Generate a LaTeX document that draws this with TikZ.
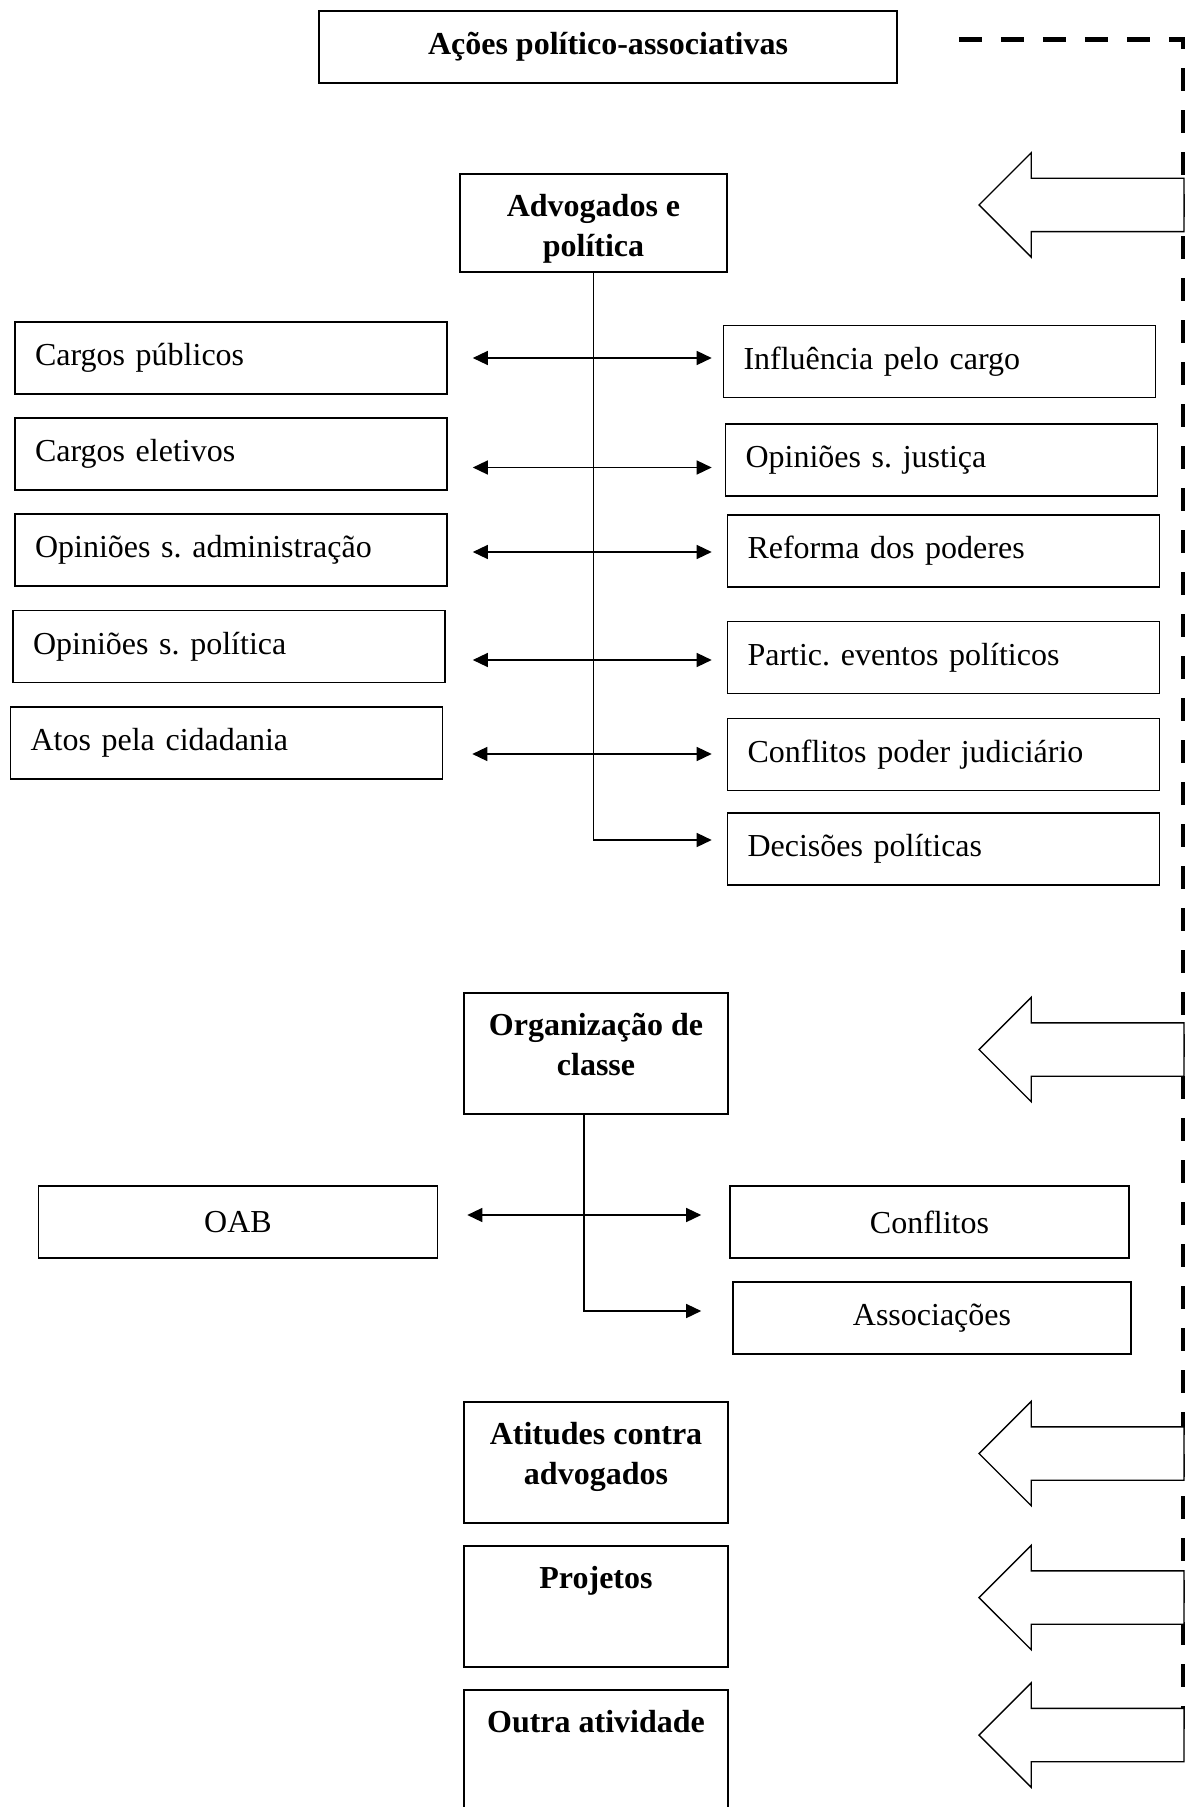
\documentclass[tikz,border=0pt]{standalone}
\usepackage{fontspec}
\setmainfont{Liberation Serif}
\usepackage{tikz}
\usetikzlibrary{arrows.meta}
\usetikzlibrary{shapes.arrows}
\frenchspacing

\begin{document}
\begin{tikzpicture}[x=0.5pt,y=-0.5pt,>={Triangle[length=7.5pt,width=7pt]},
    font=\fontsize{16}{20}\selectfont,
    box/.style={draw,line width=0.8pt,minimum height=36pt,inner sep=0pt},
    sidebox/.style={box,text width=196pt,inner xsep=10pt,align=left},
    midbox/.style={box,minimum width=199.5pt},
    catbox/.style={draw,line width=0.8pt,minimum width=132pt,minimum height=60.5pt},
    cattext/.style={font=\fontsize{16}{20}\selectfont\bfseries,align=center,inner sep=0pt,anchor=north,yshift=-10.5pt},
    twoway/.style={<->,line width=0.7pt,shorten <=12.5pt,shorten >=6pt},
    oneway/.style={->,line width=0.7pt,shorten >=7.5pt},
    feedback/.style={line width=2.5pt,dash pattern=on 11.5pt off 9.5pt},
    bigarrow/.style={single arrow,draw,fill=white,line width=0.7pt,shape border rotate=180,
      minimum height=102.5pt,inner xsep=0pt,inner ysep=13pt,
      single arrow head extend=12.75pt,single arrow tip angle=90,anchor=tip}]
    \useasboundingbox (0,0) rectangle (1184,1807);

    \node[box,minimum width=289pt,font=\fontsize{16}{20}\selectfont\bfseries] (title) at (608,47) {Ações político-associativas};

    % advogados e politica
    \node[catbox,minimum width=133.5pt,minimum height=49pt] (c_1) at (593.5,223) {};
    \node[cattext] at (c_1.north) {Advogados e\\política};

    \node[sidebox] (l_1) at (231,358) {Cargos públicos};
    \node[sidebox] (l_2) at (231,454) {Cargos eletivos};
    \node[sidebox] (l_3) at (231,550) {Opiniões s. administração};
    \node[sidebox] (l_4) at (229,646.5) {Opiniões s. política};
    \node[sidebox] (l_5) at (226.5,743) {Atos pela cidadania};

    \node[sidebox] (r_1) at (939.5,361.5) {Influência pelo cargo};
    \node[sidebox] (r_2) at (941.5,460) {Opiniões s. justiça};
    \node[sidebox] (r_3) at (943.5,551) {Reforma dos poderes};
    \node[sidebox] (r_4) at (943.5,657.5) {Partic. eventos políticos};
    \node[sidebox] (r_5) at (943.5,754.5) {Conflitos poder judiciário};
    \node[sidebox] (r_6) at (943.5,849) {Decisões políticas};

    \draw[oneway] (c_1) |- ([yshift=4.5pt]r_6.west);
    \draw[twoway,shorten >=5.5pt] (l_1.east) -- (l_1.east -| r_1.west);
    \draw[twoway,shorten >=6.5pt] ([yshift=-6.75pt]l_2.east) -- ([yshift=-6.75pt]l_2.east -| r_2.west);
    \draw[twoway,shorten >=7.5pt] ([yshift=-1pt]l_3.east) -- ([yshift=-1pt]l_3.east -| r_3.west);
    \draw[twoway,shorten <=13.5pt,shorten >=7.5pt] ([yshift=-6.75pt]l_4.east) -- ([yshift=-6.75pt]l_4.east -| r_4.west);
    \draw[twoway,shorten <=14.5pt,shorten >=7.5pt] ([yshift=-5.5pt]l_5.east) -- ([yshift=-5.5pt]l_5.east -| r_5.west);

    % organizacao de classe
    \node[catbox] (c_2) at (596,1053.5) {};
    \node[cattext] at (c_2.north) {Organização de\\classe};

    \node[midbox] (oab) at (238,1222) {OAB};
    \node[midbox] (conf) at (929.5,1222) {Conflitos};
    \node[midbox,minimum width=199pt] (assoc) at (932,1318) {Associações};

    \draw[oneway,shorten >=15.5pt] ([xshift=-6pt]c_2.south) |- ([yshift=3.5pt]assoc.west);
    \draw[twoway,shorten <=14.5pt,shorten >=14pt] ([yshift=3.5pt]oab.east) -- ([yshift=3.5pt]oab.east -| conf.west);

    \node[catbox] (c_3) at (596,1462.5) {};
    \node[cattext] at (c_3.north) {Atitudes contra\\advogados};
    \node[catbox] (c_4) at (596,1606.5) {};
    \node[cattext] at (c_4.north) {Projetos};
    \node[catbox,minimum height=61pt] (c_5) at (596,1751) {};
    \node[cattext] at (c_5.north) {Outra atividade};

    % dashed line and block arrows
    \draw[feedback] ([shift={(30.5pt,3.5pt)}]title.east) -| (1183,1735);
    \node[bigarrow] (a_1) at (978,205) {};
    \node[bigarrow] (a_2) at (978,1049.5) {};
    \node[bigarrow] (a_3) at (978,1453.5) {};
    \node[bigarrow] (a_4) at (978,1597.5) {};
    \node[bigarrow] (a_5) at (978,1735) {};
\end{tikzpicture}
\end{document}
